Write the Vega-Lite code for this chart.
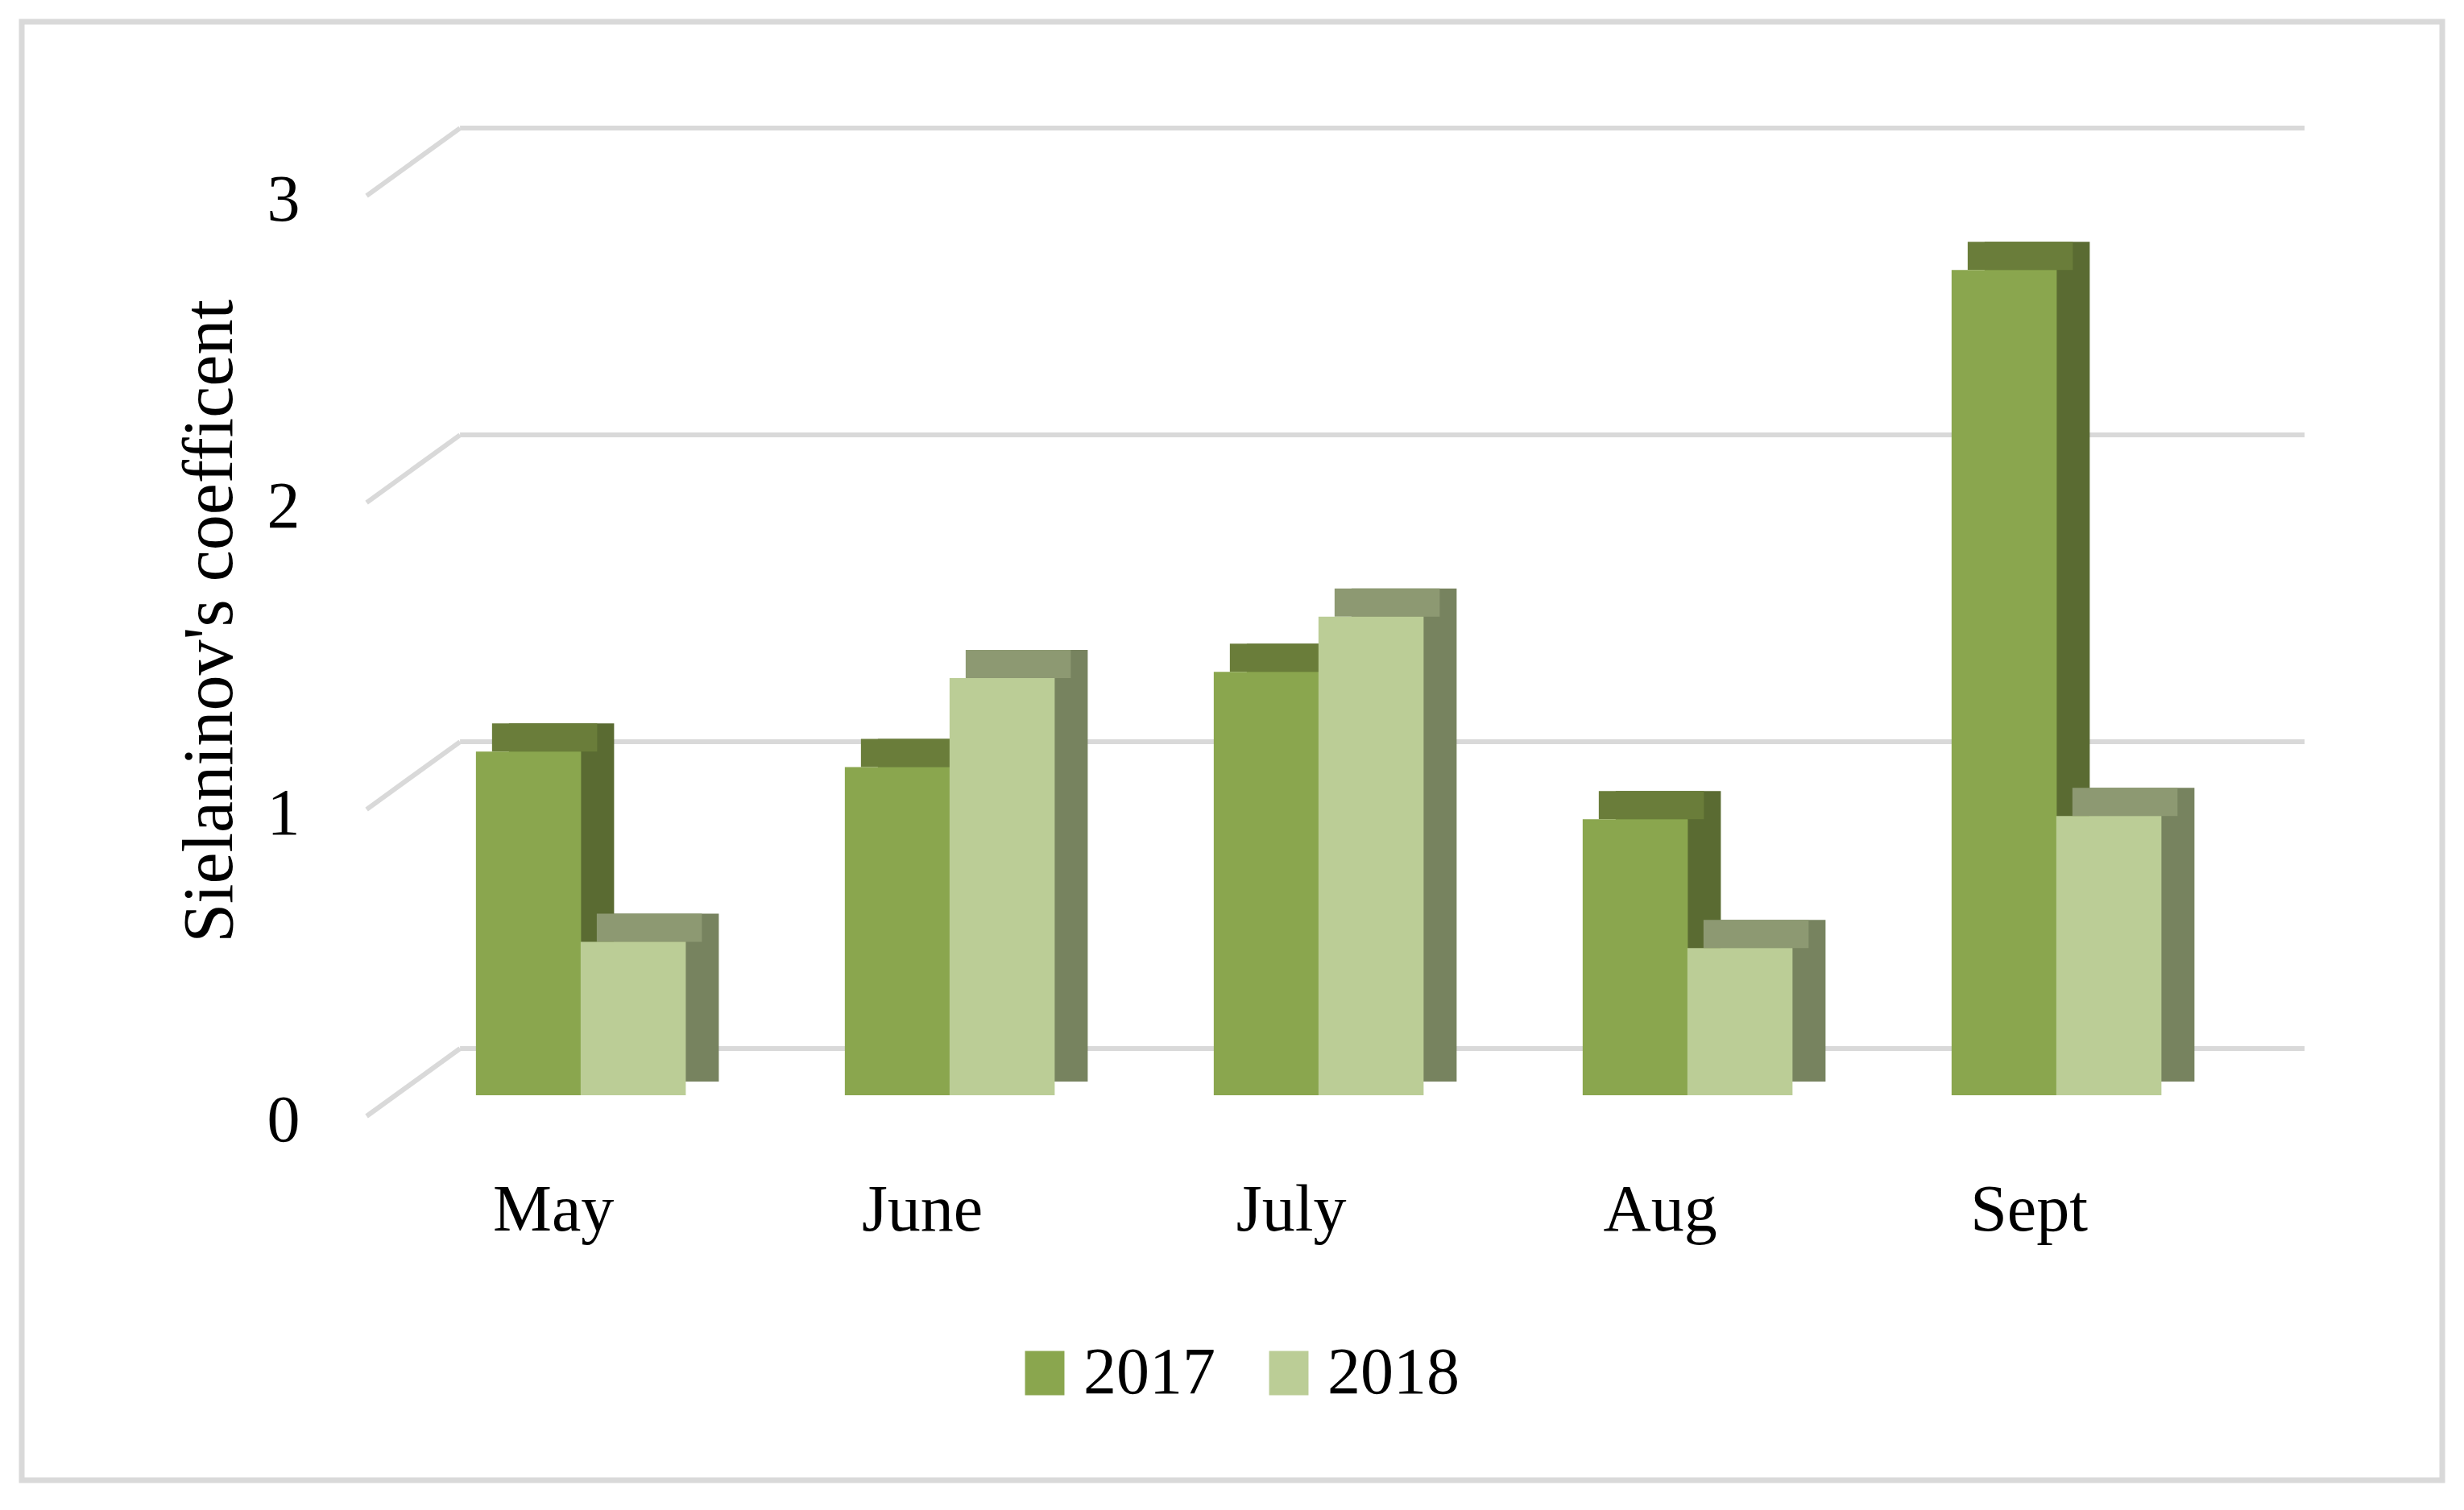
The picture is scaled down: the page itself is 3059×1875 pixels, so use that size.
{
  "$schema": "https://vega.github.io/schema/vega-lite/v6.json",
  "width": 3005,
  "height": 1811,
  "autosize": {"type": "none"},
  "padding": {"left": 27, "top": 27, "right": 27, "bottom": 37},
  "background": "white",
  "view": {"stroke": "#D9D9D9", "strokeWidth": 7},
  "config": {"font": "Liberation Serif"},
  "datasets": {
    "bars": [
      {"month": "May", "year": "2017", "v": 1.12},
      {"month": "May", "year": "2018", "v": 0.50},
      {"month": "June", "year": "2017", "v": 1.07},
      {"month": "June", "year": "2018", "v": 1.36},
      {"month": "July", "year": "2017", "v": 1.38},
      {"month": "July", "year": "2018", "v": 1.56},
      {"month": "Aug", "year": "2017", "v": 0.90},
      {"month": "Aug", "year": "2018", "v": 0.48},
      {"month": "Sept", "year": "2017", "v": 2.69},
      {"month": "Sept", "year": "2018", "v": 0.91}
    ],
    "grid": [{"v": 0}, {"v": 1}, {"v": 2}, {"v": 3}]
  },
  "encoding": {
    "x": {"field": "month", "type": "nominal",
      "scale": {"domain": ["May", "June", "July", "Aug", "Sept"], "paddingInner": 0.43, "paddingOuter": 0.9956, "align": 0.618},
      "axis": {"orient": "bottom", "offset": -376, "domain": false, "ticks": false, "tickSize": 0, "grid": false, "labelPadding": 0,
        "labelFontSize": 82, "labelFont": "Liberation Serif", "labelColor": "black", "labelAngle": 0, "labelOffset": -34, "title": null}},
    "y": {"field": "v", "type": "quantitative",
      "scale": {"domain": [-1.2546, 3.499], "nice": false, "zero": false},
      "axis": {"values": [0, 1, 2, 3], "orient": "left", "offset": -345, "domain": false, "ticks": false, "tickSize": 0, "grid": false,
        "labelPadding": 0, "labelFontSize": 82, "labelFont": "Liberation Serif", "labelColor": "black", "labelOffset": 31,
        "title": "Sielaninov's coefficent", "titleFont": "Liberation Serif", "titleFontSize": 88, "titleFontWeight": "normal", "titleColor": "black", "titlePadding": 26, "titleY": 744}}
  },
  "layer": [
    {
      "data": {"name": "grid"},
      "mark": {"type": "rule", "color": "#D9D9D9", "strokeWidth": 6, "yOffset": -58, "xOffset": -150, "x2Offset": 308},
      "encoding": {
        "x": {"datum": "May", "type": "nominal"},
        "x2": {"datum": "Sept"}
      }
    },
    {
      "data": {"name": "grid"},
      "mark": {"type": "rule", "color": "#D9D9D9", "strokeWidth": 6, "yOffset": 26, "y2Offset": -58, "xOffset": -266, "x2Offset": -150},
      "encoding": {
        "y2": {"field": "v"},
        "x": {"datum": "May", "type": "nominal"},
        "x2": {"datum": "May"}
      }
    },
    {
      "data": {"name": "bars"},
      "transform": [{"filter": "datum.year == '2017'"}],
      "mark": {"type": "bar", "color": "#5A6B32", "width": {"band": 0.5}, "xOffset": -24, "yOffset": -35, "y2Offset": -17},
      "encoding": {"y2": {"datum": 0}}
    },
    {
      "data": {"name": "bars"},
      "transform": [{"filter": "datum.year == '2018'"}],
      "mark": {"type": "bar", "color": "#77835F", "width": {"band": 0.5}, "xOffset": 106, "yOffset": -35, "y2Offset": -17},
      "encoding": {"y2": {"datum": 0}}
    },
    {
      "data": {"name": "bars"},
      "transform": [{"filter": "datum.year == '2017'"}],
      "mark": {"type": "bar", "color": "#6A7D3A", "width": {"band": 0.5}, "xOffset": -45, "yOffset": -35, "y2Offset": 0},
      "encoding": {"y2": {"field": "v"}}
    },
    {
      "data": {"name": "bars"},
      "transform": [{"filter": "datum.year == '2018'"}],
      "mark": {"type": "bar", "color": "#8D9972", "width": {"band": 0.5}, "xOffset": 85, "yOffset": -35, "y2Offset": 0},
      "encoding": {"y2": {"field": "v"}}
    },
    {
      "data": {"name": "bars"},
      "transform": [{"filter": "datum.year == '2017'"}],
      "mark": {"type": "bar", "width": {"band": 0.5}, "xOffset": -65},
      "encoding": {
        "y2": {"datum": 0},
        "color": {"field": "year", "type": "nominal", "scale": {"domain": ["2017", "2018"], "range": ["#8AA64E", "#BBCD96"]},
          "legend": {"orient": "none", "legendX": 1229, "legendY": 1637, "direction": "horizontal", "title": null,
            "symbolType": "M-0.89,-1H0.89V1H-0.89Z", "symbolSize": 3025, "symbolStrokeWidth": 0, "symbolOpacity": 1,
            "labelFont": "Liberation Serif", "labelFontSize": 82, "labelColor": "black", "labelOffset": 7, "labelLimit": 500, "columnPadding": 50, "padding": 0}}
      }
    },
    {
      "data": {"name": "bars"},
      "transform": [{"filter": "datum.year == '2018'"}],
      "mark": {"type": "bar", "width": {"band": 0.5}, "xOffset": 65},
      "encoding": {
        "y2": {"datum": 0},
        "color": {"field": "year", "type": "nominal"}
      }
    }
  ]
}
